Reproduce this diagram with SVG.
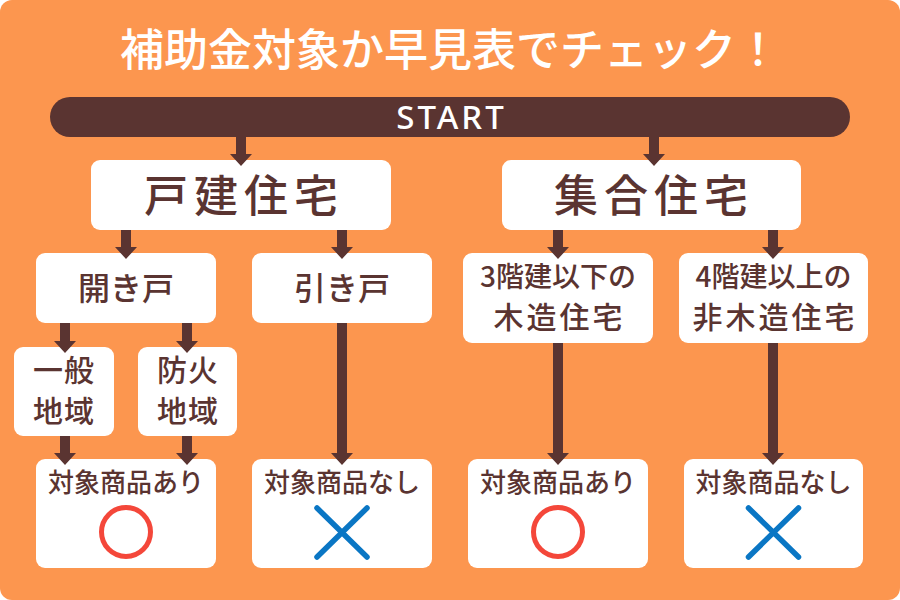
<svg xmlns="http://www.w3.org/2000/svg" width="900" height="600" viewBox="0 0 900 600">
<style>
.bg{fill:#FC964F}
.box{fill:#FFFFFF}
.bar{fill:#5A3431}
.t{font-family:"Noto Sans CJK JP","Noto Sans",sans-serif;fill:#5A3431;text-anchor:middle;font-weight:500}
.w{fill:#FFFFFF}
.arr{fill:#5A3431}
.ok{fill:none;stroke:#F4473A;stroke-width:5}
.ng{fill:none;stroke:#0A76C4;stroke-width:5.5;stroke-linecap:round}
</style>
<rect class="bg" x="0" y="0" width="900" height="600" rx="12"/>
<text class="t w" x="450" y="66" font-size="44">補助金対象か早見表でチェック！</text>

<g id="start">
<rect class="bar" x="50" y="97" width="800" height="40" rx="20"/>
<text class="t w" x="451.5" y="129" font-size="33" letter-spacing="3" style="font-family:'Noto Sans',sans-serif">START</text>
</g>

<g id="kodate">
<rect class="box" x="91" y="160" width="300" height="70" rx="9"/>
<text class="t" x="244" y="212" font-size="44" letter-spacing="6">戸建住宅</text>
</g>
<g id="shugo">
<rect class="box" x="502" y="160" width="299" height="70" rx="9"/>
<text class="t" x="654" y="212" font-size="44" letter-spacing="6">集合住宅</text>
</g>

<g id="hirakido">
<rect class="box" x="36" y="253" width="180" height="70" rx="9"/>
<text class="t" x="126" y="300" font-size="32">開き戸</text>
</g>
<g id="hikido">
<rect class="box" x="252" y="253" width="180" height="70" rx="9"/>
<text class="t" x="342" y="300" font-size="32">引き戸</text>
</g>

<g id="ippan">
<rect class="box" x="14" y="347" width="100" height="89" rx="9"/>
<text class="t" x="64" y="381" font-size="30" letter-spacing="1">一般</text>
<text class="t" x="64" y="422" font-size="30" letter-spacing="1">地域</text>
</g>
<g id="boka">
<rect class="box" x="138" y="347" width="99" height="89" rx="9"/>
<text class="t" x="188" y="381" font-size="30" letter-spacing="1">防火</text>
<text class="t" x="188" y="422" font-size="30" letter-spacing="1">地域</text>
</g>

<g id="mokuzo">
<rect class="box" x="463" y="253" width="190" height="90" rx="9"/>
<text class="t" x="558" y="287" font-size="28">3階建以下の</text>
<text class="t" x="559.5" y="328" font-size="30" letter-spacing="3">木造住宅</text>
</g>
<g id="himokuzo">
<rect class="box" x="679" y="253" width="189" height="90" rx="9"/>
<text class="t" x="773.5" y="287" font-size="28">4階建以上の</text>
<text class="t" x="775" y="328" font-size="30" letter-spacing="3">非木造住宅</text>
</g>

<g id="result1">
<rect class="box" x="36" y="459" width="180" height="109" rx="9"/>
<text class="t" x="126" y="492" font-size="26">対象商品あり</text>
<circle class="ok" cx="126" cy="532" r="24.5"/>
</g>
<g id="result2">
<rect class="box" x="252" y="459" width="180" height="109" rx="9"/>
<text class="t" x="342" y="492" font-size="26">対象商品なし</text>
<path class="ng" d="M317 508 L367 557 M367 508 L317 557"/>
</g>
<g id="result3">
<rect class="box" x="468" y="459" width="180" height="109" rx="9"/>
<text class="t" x="558" y="492" font-size="26">対象商品あり</text>
<circle class="ok" cx="558" cy="532" r="24.5"/>
</g>
<g id="result4">
<rect class="box" x="684" y="459" width="179" height="109" rx="9"/>
<text class="t" x="773.5" y="492" font-size="26">対象商品なし</text>
<path class="ng" d="M748.5 508 L798.5 557 M798.5 508 L748.5 557"/>
</g>

<g id="connectors">
<path class="arr" d="M236 137 H246 V154 H252 L241 166 L230 154 H236 Z"/>
<path class="arr" d="M649 137 H659 V154 H665 L654 166 L643 154 H649 Z"/>
<path class="arr" d="M121 230 H131 V247 H137 L126 259 L115 247 H121 Z"/>
<path class="arr" d="M337 230 H347 V247 H353 L342 259 L331 247 H337 Z"/>
<path class="arr" d="M553 230 H563 V247 H569 L558 259 L547 247 H553 Z"/>
<path class="arr" d="M768 230 H778 V247 H784 L773 259 L762 247 H768 Z"/>
<path class="arr" d="M60 323 H70 V341 H76 L65 353 L54 341 H60 Z"/>
<path class="arr" d="M182 323 H192 V341 H198 L187 353 L176 341 H182 Z"/>
<path class="arr" d="M60 436 H70 V453 H76 L65 465 L54 453 H60 Z"/>
<path class="arr" d="M182 436 H192 V453 H198 L187 465 L176 453 H182 Z"/>
<path class="arr" d="M337 323 H347 V453 H353 L342 465 L331 453 H337 Z"/>
<path class="arr" d="M553 343 H563 V453 H569 L558 465 L547 453 H553 Z"/>
<path class="arr" d="M768 343 H778 V453 H784 L773 465 L762 453 H768 Z"/>
</g>
</svg>
